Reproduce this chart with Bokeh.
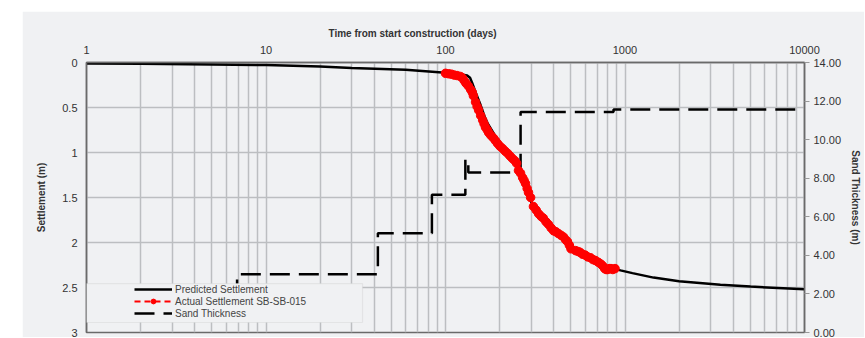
from bokeh.plotting import figure
from bokeh.models import (Range1d, LinearAxis, FixedTicker, NumeralTickFormatter,
                          Legend, LegendItem, BoxAnnotation, Title)
from bokeh.embed import file_html
from bokeh.resources import INLINE

# ---------------- data ----------------
x_ticks = [1, 10, 100, 1000, 10000]
x_tick_labels = ["1", "10", "100", "1000", "10000"]
y_ticks = [0, 0.5, 1, 1.5, 2, 2.5, 3]
y_tick_labels = ["0", "0.5", "1", "1.5", "2", "2.5", "3"]
sand_ticks = [0, 2, 4, 6, 8, 10, 12, 14]

pred_t = [1, 2, 5, 10, 20, 30, 60, 100, 120, 132, 137, 141, 147, 156, 165, 172, 190, 210,
          235, 262, 286, 309, 351, 400, 450, 517, 600, 700, 800, 944, 1100, 1442, 2000,
          3400, 5000, 10000]
pred_s = [0.01, 0.015, 0.022, 0.028, 0.045, 0.06, 0.08, 0.115, 0.13, 0.145, 0.17, 0.23,
          0.33, 0.46, 0.6, 0.68, 0.82, 0.94, 1.07, 1.2, 1.46, 1.6, 1.73, 1.86, 1.95, 2.07,
          2.14, 2.21, 2.27, 2.31, 2.34, 2.39, 2.43, 2.47, 2.49, 2.52]

act_t = [100, 104, 108, 112, 116, 121, 124, 127, 130, 134, 138, 141, 143, 147, 150, 153,
         157, 161, 164, 167, 171, 174, 179, 185, 190, 195, 201, 208, 215, 222, 229, 236,
         243, 249, 255, 262, 269, 274, 279, 285, 290, 298, 309, 320, 330, 341, 351, 363,
         375, 388, 400, 412, 425, 440, 455, 467, 478, 490, 500, 530, 548, 563, 580, 600,
         620, 643, 663, 684, 710, 734, 752, 770, 785, 800, 818, 835, 855, 880]
act_s = [0.12, 0.125, 0.13, 0.14, 0.145, 0.155, 0.17, 0.2, 0.23, 0.26, 0.3, 0.33, 0.37,
         0.44, 0.49, 0.53, 0.59, 0.64, 0.68, 0.72, 0.75, 0.78, 0.81, 0.84, 0.87, 0.9,
         0.93, 0.956, 0.985, 1.01, 1.04, 1.067, 1.09, 1.12, 1.2, 1.23, 1.28, 1.31, 1.344,
         1.4, 1.444, 1.5, 1.6, 1.64, 1.68, 1.71, 1.73, 1.77, 1.8, 1.84, 1.87, 1.88, 1.9,
         1.92, 1.94, 1.97, 1.99, 2.03, 2.07, 2.09, 2.1, 2.11, 2.13, 2.14, 2.16, 2.17,
         2.19, 2.2, 2.22, 2.24, 2.26, 2.29, 2.3, 2.3, 2.29, 2.29, 2.3, 2.29]

sand_t = [1, 6.9, 6.9, 42, 42, 84, 84, 129, 129, 134, 134, 262, 262, 863, 863, 10000]
sand_h = [2.0, 2.0, 3.02, 3.02, 5.15, 5.15, 7.14, 7.14, 8.97, 8.97, 8.3, 8.3, 11.43,
          11.43, 11.56, 11.56]

legend_labels = ["Predicted Settlement", "Actual Settlement SB-SB-015", "Sand Thickness"]

# ---------------- styles ----------------
BG = "#f0f1f3"
FONT = "Liberation Sans"
GRID = "#bcbec1"
FRAME = "#6a6a6a"
TXT = "#333333"

p = figure(width=842, height=326, x_axis_type="log", x_axis_location="above",
           x_range=Range1d(1, 10000), y_range=Range1d(3, 0),
           output_backend="svg", toolbar_location=None,
           background_fill_color=BG, border_fill_color=BG,
           min_border_left=64, min_border_right=60, min_border_top=51, min_border_bottom=5,
           margin=(11, 0, 0, 22))

p.extra_y_ranges = {"sand": Range1d(0, 14)}

p.title = Title(text="Time from start construction (days)", align="left", offset=242,
                text_font=FONT, text_font_size="10px", text_font_style="bold",
                text_color=TXT, standoff=8)

# grids
minor_x = [m * 10 ** d for d in range(4) for m in range(2, 10)]
p.xgrid.ticker = FixedTicker(ticks=x_ticks, minor_ticks=minor_x)
p.xgrid.grid_line_color = GRID
p.xgrid.grid_line_width = 1.5
p.xgrid.minor_grid_line_color = GRID
p.xgrid.minor_grid_line_width = 1.5
p.ygrid.ticker = FixedTicker(ticks=y_ticks)
p.ygrid.grid_line_color = GRID
p.ygrid.grid_line_width = 1.5

p.outline_line_color = FRAME
p.outline_line_width = 1.5

# top axis
xa = p.xaxis[0]
xa.ticker = FixedTicker(ticks=x_ticks, minor_ticks=[])
xa.major_label_overrides = {t: l for t, l in zip(x_ticks, x_tick_labels)}
xa.major_tick_line_color = None
xa.minor_tick_line_color = None
xa.axis_line_color = FRAME
xa.axis_line_width = 1.5
xa.major_label_standoff = 3
xa.major_label_text_font = FONT
xa.major_label_text_font_size = "11px"
xa.major_label_text_color = TXT

# left axis
ya = p.yaxis[0]
ya.ticker = FixedTicker(ticks=y_ticks)
ya.major_label_overrides = {t: l for t, l in zip(y_ticks, y_tick_labels)}
ya.major_tick_line_color = None
ya.minor_tick_line_color = None
ya.axis_line_color = FRAME
ya.axis_line_width = 1.5
ya.major_label_standoff = 3
ya.major_label_text_font = FONT
ya.major_label_text_font_size = "11px"
ya.major_label_text_color = TXT
ya.axis_label = "Settlement (m)"
ya.axis_label_text_font = FONT
ya.axis_label_text_font_size = "10px"
ya.axis_label_text_font_style = "bold"
ya.axis_label_text_color = TXT
ya.axis_label_standoff = 12

# right axis
ra = LinearAxis(y_range_name="sand", ticker=FixedTicker(ticks=sand_ticks),
                formatter=NumeralTickFormatter(format="0.00"))
ra.major_tick_out = 5
ra.major_tick_in = 0
ra.major_tick_line_color = "#999999"
ra.minor_tick_line_color = None
ra.axis_line_color = FRAME
ra.axis_line_width = 1.5
ra.major_label_standoff = 4
ra.major_label_text_font = FONT
ra.major_label_text_font_size = "11px"
ra.major_label_text_color = TXT
ra.axis_label = "Sand Thickness (m)"
ra.axis_label_text_font = FONT
ra.axis_label_text_font_size = "10px"
ra.axis_label_text_font_style = "bold"
ra.axis_label_text_color = TXT
ra.axis_label_standoff = 6
p.add_layout(ra, "right")

# series
sand = p.line(sand_t, sand_h, y_range_name="sand", line_color="black",
              line_width=2.5, line_dash="20 9")
pred = p.line(pred_t, pred_s, line_color="black", line_width=2.5)
act_line = p.line(act_t, act_s, line_color="red", line_width=2, line_dash="6 4")
act_pts = p.scatter(act_t, act_s, size=8.5, fill_color="red", line_color="red", marker="circle")

# legend box
box = BoxAnnotation(left=1.0, right=34.5, top=2.456, bottom=2.889,
                    fill_color=BG, fill_alpha=1.0, line_color="#c8c8c8", line_width=1.2,
                    level="annotation")
p.add_layout(box)

legend = Legend(items=[
    LegendItem(label=legend_labels[0], renderers=[pred]),
    LegendItem(label=legend_labels[1], renderers=[act_line, act_pts]),
    LegendItem(label=legend_labels[2], renderers=[sand]),
], location=(46, 11), margin=0, padding=2, spacing=0,
    glyph_width=38, glyph_height=12, label_height=12, label_standoff=3,
    label_text_font=FONT, label_text_font_size="10px", label_text_color="#444444",
    background_fill_alpha=0, border_line_alpha=0)
p.add_layout(legend)

open("out.html", "w").write(file_html(p, INLINE))
